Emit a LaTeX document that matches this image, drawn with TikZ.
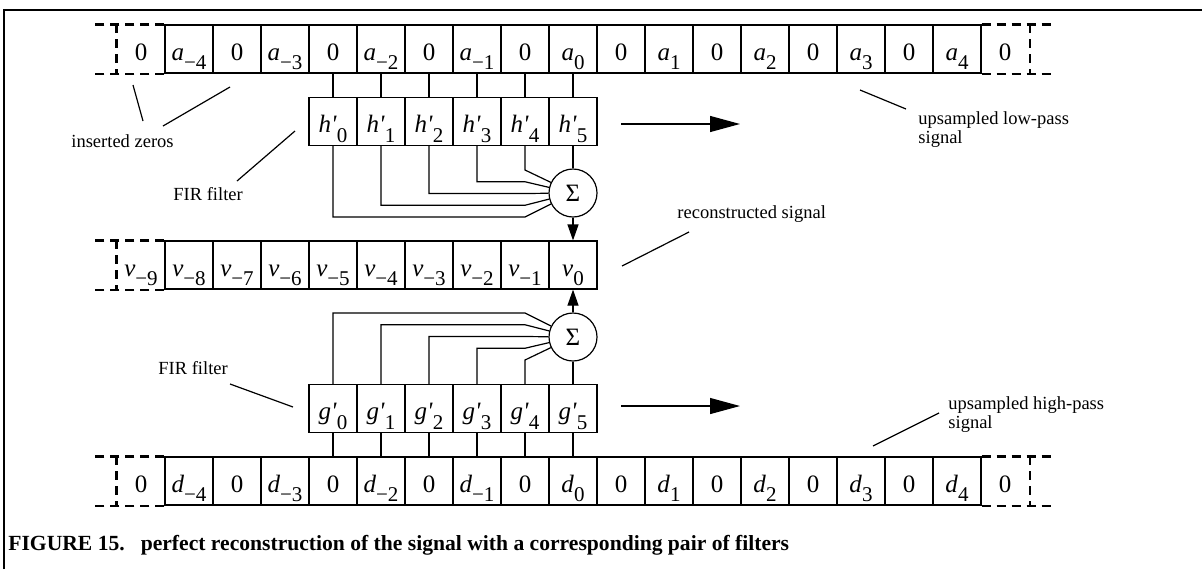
\documentclass[tikz,border=0pt]{standalone}
\usepackage{fontspec}
\setmainfont{Liberation Serif}
\usetikzlibrary{arrows.meta}

% index with a long minus, subscript set low
\newcommand\ix[1]{\ifnum#1<0 −\number-#1\else#1\fi}
\newcommand\smp[2]{\textit{#1}\raisebox{-.38em}{\fontsize{10.5}{10.5}\selectfont#2}}

\begin{document}
\begin{tikzpicture}[x=.5pt,y=-.5pt,
    sigcell/.style={draw,line width=.6pt,minimum width=24pt,minimum height=24pt,
      inner sep=0pt,text height=11pt,text depth=0pt,font=\fontsize{12.5}{12.5}\selectfont},
    opencell/.style={sigcell,draw=none},
    openline/.style={line width=1.1pt,dash pattern=on 4.5pt off 3pt},
    wire/.style={line width=.6pt},
    sumnode/.style={circle,draw,line width=.6pt,minimum size=24pt,inner sep=0pt,
      font=\fontsize{12.5}{12.5}\selectfont},
    lbl/.style={font=\fontsize{9.25}{8}\selectfont,align=left,inner sep=0pt},
    bigarrow/.style={line width=.6pt,-{Triangle[length=15pt,width=8pt]}},
    sumarrow/.style={line width=.6pt,-{Triangle[length=8pt,width=5.5pt]}}]
  \useasboundingbox (0,0) rectangle (1202,569);
  \draw[line width=.6pt] (4,569) -- (4,10) -- (1202,10);%

  % upsampled rows a and d
  \foreach \r/\yy in {a/49, d/481} {%
    \foreach \k in {0,...,16} {%
      \pgfmathtruncatemacro\n{\k/2-4}%
      \ifodd\k \def\val{0}\else \def\val{\smp{\r}{\ix\n}}\fi
      \node[sigcell] (\r\k) at (189+48*\k,\yy) {\val}; }%
    \node[opencell] (\r l) at (141,\yy) {0};%
    \node[opencell] (\r r) at (1005,\yy) {0};%
    \draw[openline] (\r0.north west) -- ++(-72,0) (\r0.south west) -- ++(-72,0);%
    \draw[openline] (\r l.north west) -- (\r l.south west);%
    \draw[openline] (\r16.north east) -- ++(72,0) (\r16.south east) -- ++(72,0);%
    \draw[openline] (\r r.north east) -- (\r r.south east); }%

  % reconstructed row v
  \foreach \k in {0,...,8} {%
    \pgfmathtruncatemacro\n{\k-8}%
    \node[sigcell] (v\k) at (189+48*\k,265) {\smp{v}{\ix\n}}; }%
  \node[opencell] (vl) at (141,265) {\smp{v}{−9}};%
  \draw[openline] (v0.north west) -- ++(-72,0) (v0.south west) -- ++(-72,0);%
  \draw[openline] (vl.north west) -- (vl.south west);%

  % filters h' and g'
  \foreach \r/\yy/\s in {h/121.5/a, g/408.5/d} {%
    \foreach \j in {0,...,5} {%
      \pgfmathtruncatemacro\m{\j+3}%
      \node[sigcell] (\r\j) at (333+48*\j,\yy) {\smp{\r\textquotesingle}{\j}};%
      \draw[wire] (\s\m) -- (\r\j); } }%

  \node[sumnode] (sh) at (573,193) {Σ};%
  \node[sumnode] (sg) at (573,337) {Σ};%
  \foreach \j in {0,...,4} {%
    \coordinate (hk\j) at (525,217-11.75*\j);%
    \coordinate (gk\j) at (525,313+11.75*\j);%
    \draw[wire] (h\j) |- (hk\j) -- (sh);%
    \draw[wire] (g\j) |- (gk\j) -- (sg); }%
  \draw[wire] (h5) -- (sh) (g5) -- (sg);%
  \draw[sumarrow] (sh) -- (v8);%
  \draw[sumarrow] (sg) -- (v8);%

  % shift arrows
  \coordinate (ha0) at (621,124); \coordinate (ha1) at (740,124);%
  \coordinate (ga0) at (621,406); \coordinate (ga1) at (740,406);%
  \draw[bigarrow] (ha0) -- (ha1);%
  \draw[bigarrow] (ga0) -- (ga1);%

  % labels
  \node[lbl,anchor=base west] (zeros) at (71,147) {inserted zeros};%
  \node[lbl,anchor=base west] (firh) at (173,200) {FIR filter};%
  \node[lbl,anchor=north west] (lowp) at (918,111) {upsampled low-pass\\signal};%
  \node[lbl,anchor=base west] (recs) at (677,218) {reconstructed signal};%
  \node[lbl,anchor=base west] (firg) at (158,374) {FIR filter};%
  \node[lbl,anchor=north west] (highp) at (948,396) {upsampled high-pass\\signal};%
  \path (133,85) coordinate (z0) (143,121) coordinate (z1)
        (230,87) coordinate (z2) (163,126) coordinate (z3)
        (295,131) coordinate (f0) (237,181) coordinate (f1)
        (860,90) coordinate (l0) (906,109) coordinate (l1)
        (689,232) coordinate (r0) (622,266) coordinate (r1)
        (230,384) coordinate (f2) (293,407) coordinate (f3)
        (873,446) coordinate (p0) (939,413) coordinate (p1);%
  \draw[wire] (z0) -- (z1) (z2) -- (z3) (f0) -- (f1) (l0) -- (l1)
              (r0) -- (r1) (f2) -- (f3) (p0) -- (p1);%

  \node[anchor=base west,inner sep=0pt,font=\bfseries\fontsize{10.8}{10.8}\selectfont] (cap)
    at (8,550) {FIGURE 15.\hspace{8pt}perfect reconstruction of the signal with a corresponding pair of filters};%
\end{tikzpicture}
\end{document}
